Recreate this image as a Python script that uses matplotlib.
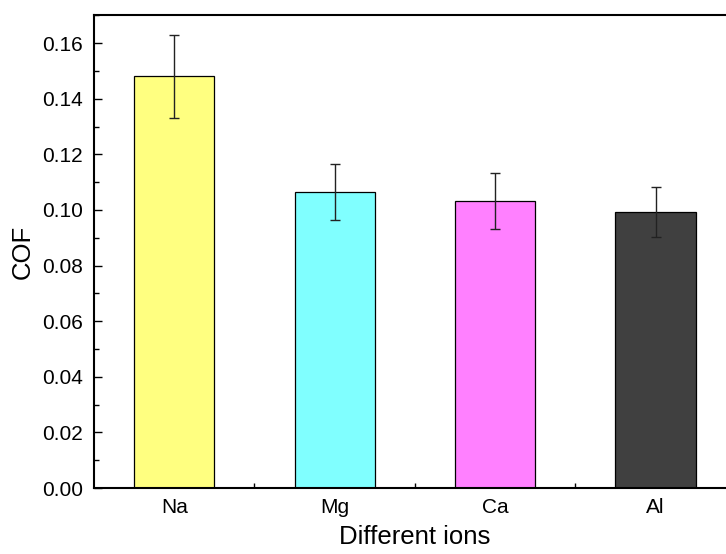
"""Bar chart of friction coefficient (COF) for different ions, with error bars."""

import matplotlib

matplotlib.use("Agg")
import matplotlib.pyplot as plt  # noqa:E402
from matplotlib.ticker import MultipleLocator, FixedLocator  # noqa:E402

ions = ["Na", "Mg", "Ca", "Al"]
cof = [0.148, 0.1065, 0.1032, 0.0992]
cof_err = [0.015, 0.010, 0.010, 0.009]
bar_colors = ["#FFFF80", "#80FFFF", "#FF80FF", "#404040"]

plt.rcParams["font.family"] = ["Liberation Sans", "DejaVu Sans"]

fig = plt.figure(figsize=(7.26, 5.54), dpi=100)
# axes run slightly past the right edge of the canvas
ax = fig.add_axes([0.1295, 0.1191, 0.884, 0.8533])

positions = range(1, len(ions) + 1)
ax.bar(positions, cof, width=0.5, color=bar_colors,
       edgecolor="black", linewidth=0.9, zorder=2)
ax.errorbar(positions, cof, yerr=cof_err, fmt="none", ecolor="#222222",
            elinewidth=1.0, capsize=3.5, capthick=1.0, zorder=3)

ax.set_xlim(0.5, 4.5)
ax.set_ylim(0, 0.17)
ax.set_xticks(list(positions))
ax.set_xticklabels(ions)
ax.xaxis.set_minor_locator(FixedLocator([1.5, 2.5, 3.5]))
ax.yaxis.set_major_locator(MultipleLocator(0.02))
ax.yaxis.set_minor_locator(MultipleLocator(0.01))
ax.yaxis.set_major_formatter(plt.FormatStrFormatter("%.2f"))

ax.tick_params(which="both", direction="in", width=1.0, labelsize=15,
               top=False, right=False)
ax.tick_params(which="major", length=6)
ax.tick_params(which="minor", length=3.5)
ax.tick_params(axis="x", pad=7)
ax.tick_params(axis="y", pad=8)

for side in ("left", "bottom", "top", "right"):
    ax.spines[side].set_linewidth(1.5)

ax.set_xlabel("Different ions", fontsize=18.5, labelpad=6)
ax.set_ylabel("COF", fontsize=18.5, labelpad=5)

fig.savefig("out.png", dpi=100)
